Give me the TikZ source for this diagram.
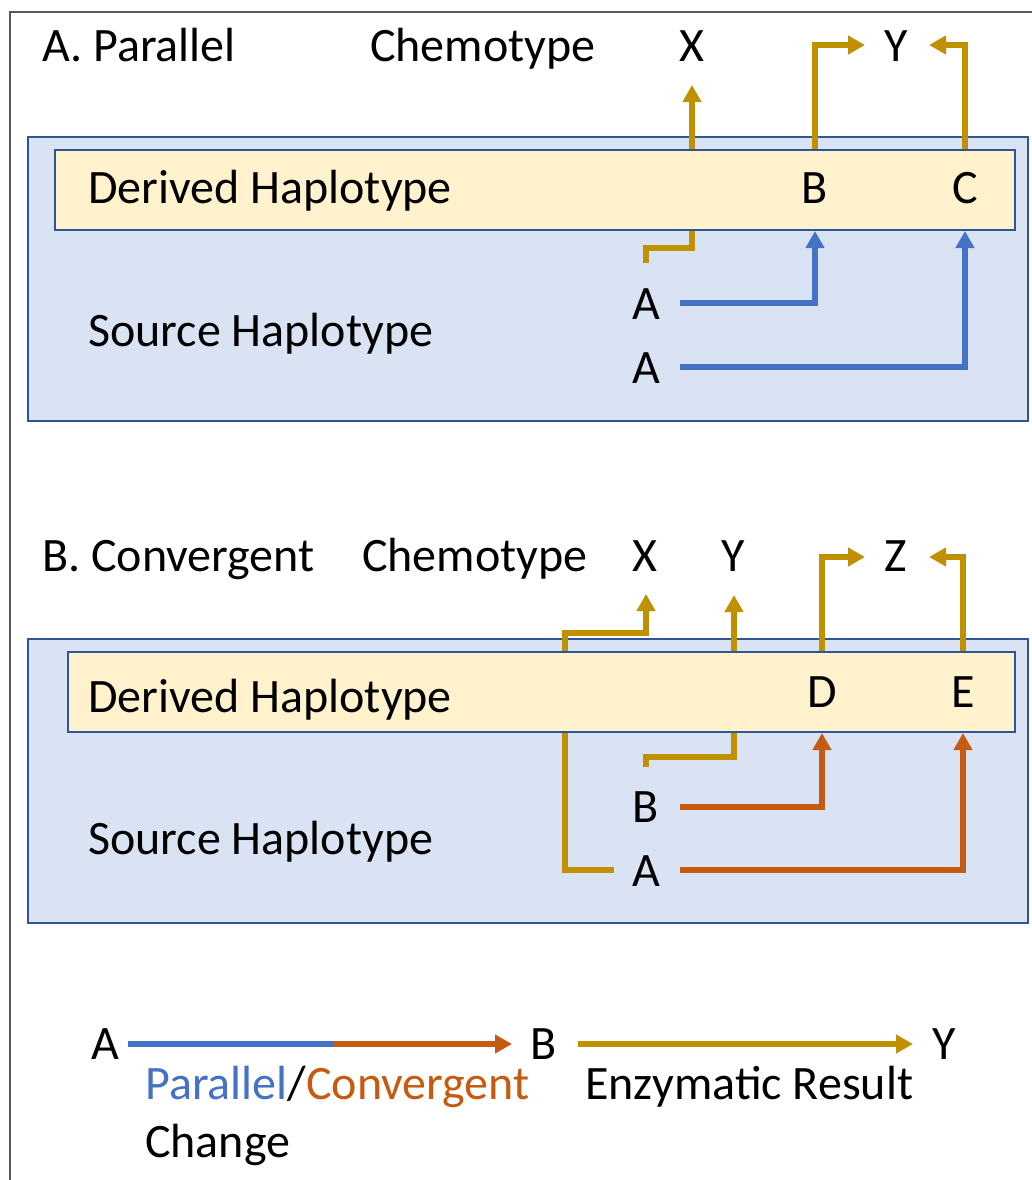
\documentclass[tikz,border=0pt]{standalone}
\usepackage{fontspec}
\setmainfont{Carlito}
\usetikzlibrary{arrows.meta}
\definecolor{outerfill}{HTML}{DAE3F3}
\definecolor{boxline}{HTML}{2F5597}
\definecolor{innerfill}{HTML}{FFF2CC}
\definecolor{gold}{HTML}{BF9000}
\definecolor{pblue}{HTML}{4472C4}
\definecolor{corange}{HTML}{C55A11}
\begin{document}
\begin{tikzpicture}[x=1pt,y=-1pt,
  txt/.style={font=\fontsize{48}{58}\selectfont, inner sep=0pt, anchor=base west},
  ctxt/.style={font=\fontsize{48}{58}\selectfont, inner sep=0pt, anchor=base},
  outerbox/.style={fill=outerfill, draw=boxline, line width=2.5pt},
  innerbox/.style={fill=innerfill, draw=boxline, line width=2.5pt},
  tipstyle/.style={-{Triangle[length=17pt,width=18pt]}},
  goldline/.style={draw=gold, line width=5.5pt},
  blueline/.style={draw=pblue, line width=5.5pt},
  orangeline/.style={draw=corange, line width=5.5pt}]
\useasboundingbox (0,0) rectangle (1032,1180);
\fill[white] (0,0) rectangle (1032,1180);
\draw[black!65, line width=1.3pt] (10,1182) -- (10,12) -- (1034,12);

% ---------- Section A ----------
\draw[outerbox] (28,137) rectangle (1028,421);
\node[txt] (titleA) at (42,62) {A. Parallel};
\node[txt] (chemA) at (370,62) {Chemotype};
\node[ctxt] (XA) at (692,62) {X};
\node[ctxt] (YA) at (896,62) {Y};
\coordinate (gA1s) at (646,263);
\coordinate (gA1t) at (692,85);
\coordinate (gBs) at (815,150);
\coordinate (gBt) at (865,45);
\coordinate (gCs) at (965,150);
\coordinate (gCt) at (929,45);
\draw[goldline, tipstyle] (gA1s) |- (669,248) -| (gA1t);
\draw[goldline, tipstyle] (gBs) |- (gBt);
\draw[goldline, tipstyle] (gCs) |- (gCt);
\draw[innerbox] (55,150) rectangle (1015,230);
\node[txt] (derA) at (88,203) {Derived Haplotype};
\node[ctxt] (BA) at (815,203) {B};
\node[ctxt] (CA) at (965,203) {C};
\node[txt] (srcA) at (88,346) {Source Haplotype};
\node[ctxt] (A1) at (646,319) {A};
\node[ctxt] (A2) at (646,383) {A};
\coordinate (bA1s) at (680,303);
\coordinate (bA1t) at (815,231);
\coordinate (bA2s) at (680,367);
\coordinate (bA2t) at (965,231);
\draw[blueline, tipstyle] (bA1s) -| (bA1t);
\draw[blueline, tipstyle] (bA2s) -| (bA2t);

% ---------- Section B ----------
\draw[outerbox] (28,639) rectangle (1028,923);
\node[txt] (titleB) at (42,571) {B. Convergent};
\node[txt] (chemB) at (362,571) {Chemotype};
\node[ctxt] (XB) at (645,571) {X};
\node[ctxt] (YB) at (733,571) {Y};
\node[ctxt] (ZB) at (896,571) {Z};
\draw[goldline, tipstyle] (614,870) -| (565,633) -| (646,594);
\draw[goldline, tipstyle] (646,767) |- (690,757) -| (734,595);
\draw[goldline, tipstyle] (822,652) |- (865,557);
\draw[goldline, tipstyle] (963,652) |- (929,557);
\draw[innerbox] (68,652) rectangle (1015,732);
\node[txt] (derB) at (88,712) {Derived Haplotype};
\node[ctxt] (DB) at (822,707) {D};
\node[ctxt] (EB) at (963,707) {E};
\node[txt] (srcB) at (88,854) {Source Haplotype};
\node[ctxt] (BB) at (646,822) {B};
\node[ctxt] (AB) at (646,886) {A};
\draw[orangeline, tipstyle] (680,807) -| (822,733);
\draw[orangeline, tipstyle] (680,870) -| (963,733);

% ---------- Legend ----------
\node[ctxt] (LA) at (105,1059) {A};
\node[ctxt] (LB) at (544,1059) {B};
\node[ctxt] (LY) at (944,1059) {Y};
\coordinate (Lmid) at (333,1044);
\draw[blueline] (128,1044) -- (Lmid);
\draw[orangeline, tipstyle] (Lmid) -- (512,1044);
\draw[goldline, tipstyle] (578,1044) -- (913,1044);
\node[txt] (Lpc) at (145,1099) {\textcolor{pblue}{Parallel}/\textcolor{corange}{Convergent}};
\node[txt] (Lch) at (145,1157) {Change};
\node[txt] (Ler) at (585,1099) {Enzymatic Result};
\end{tikzpicture}
\end{document}
